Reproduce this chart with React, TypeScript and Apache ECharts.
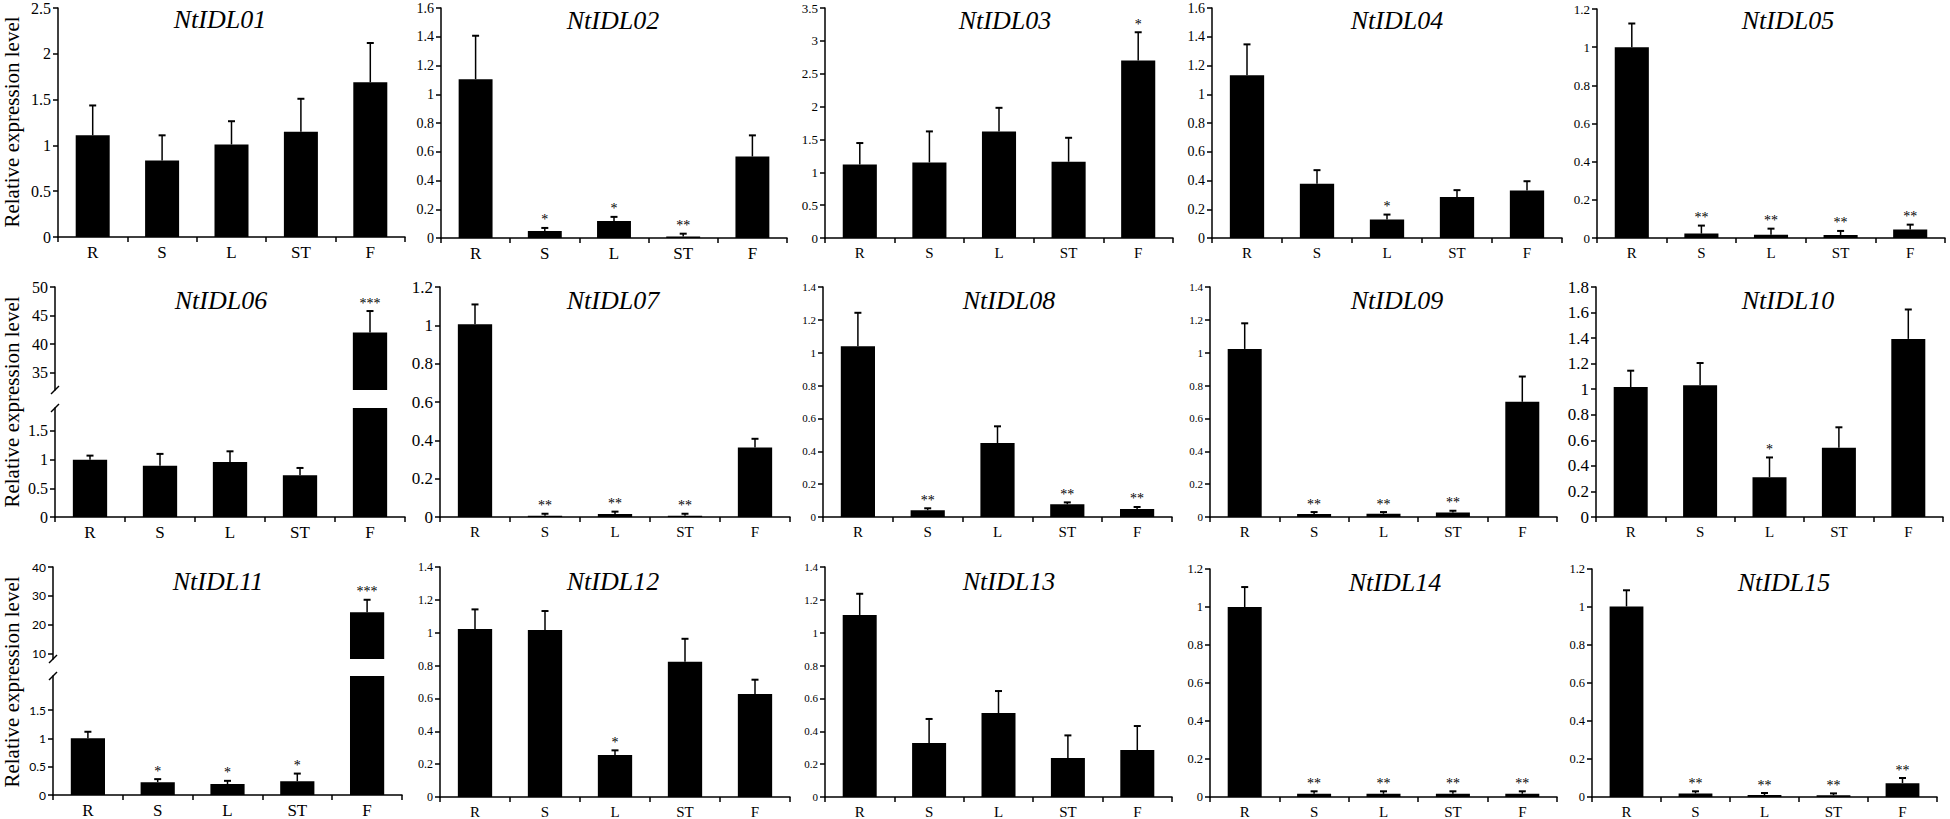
import React, { useEffect, useRef } from "react";
import * as echarts from "echarts";

// ---------- DATA ----------
const categories = ["R", "S", "L", "ST", "F"];
const geneNames = [
  "NtIDL01", "NtIDL02", "NtIDL03", "NtIDL04", "NtIDL05",
  "NtIDL06", "NtIDL07", "NtIDL08", "NtIDL09", "NtIDL10",
  "NtIDL11", "NtIDL12", "NtIDL13", "NtIDL14", "NtIDL15",
];
const yTitle = "Relative expression level";

// mean relative expression (R, S, L, ST, F)
const meanNtIDL01 = [1.11, 0.835, 1.01, 1.15, 1.69];
const meanNtIDL02 = [1.105, 0.049, 0.119, 0.01, 0.567];
const meanNtIDL03 = [1.12, 1.15, 1.62, 1.16, 2.7];
const meanNtIDL04 = [1.133, 0.377, 0.128, 0.286, 0.33];
const meanNtIDL05 = [1.0, 0.023, 0.017, 0.016, 0.044];
const meanNtIDL06 = [1.0, 0.895, 0.96, 0.727, 42.06];
const meanNtIDL07 = [1.006, 0.007, 0.016, 0.007, 0.363];
const meanNtIDL08 = [1.039, 0.041, 0.45, 0.077, 0.049];
const meanNtIDL09 = [1.023, 0.018, 0.02, 0.028, 0.701];
const meanNtIDL10 = [1.017, 1.032, 0.312, 0.542, 1.394];
const meanNtIDL11 = [1.0, 0.227, 0.192, 0.244, 24.3];
const meanNtIDL12 = [1.022, 1.016, 0.256, 0.824, 0.627];
const meanNtIDL13 = [1.108, 0.329, 0.511, 0.237, 0.286];
const meanNtIDL14 = [1.0, 0.017, 0.017, 0.017, 0.017];
const meanNtIDL15 = [1.003, 0.019, 0.01, 0.009, 0.073];

// standard deviation (upper error bar)
const sdNtIDL01 = [0.326, 0.275, 0.254, 0.359, 0.428];
const sdNtIDL02 = [0.302, 0.021, 0.028, 0.02, 0.147];
const sdNtIDL03 = [0.325, 0.472, 0.361, 0.365, 0.431];
const sdNtIDL04 = [0.214, 0.095, 0.035, 0.047, 0.065];
const sdNtIDL05 = [0.124, 0.042, 0.032, 0.021, 0.026];
const sdNtIDL06 = [0.07, 0.205, 0.185, 0.128, 3.74];
const sdNtIDL07 = [0.103, 0.01, 0.012, 0.01, 0.045];
const sdNtIDL08 = [0.204, 0.012, 0.102, 0.012, 0.012];
const sdNtIDL09 = [0.156, 0.012, 0.01, 0.01, 0.154];
const sdNtIDL10 = [0.128, 0.173, 0.154, 0.16, 0.23];
const sdNtIDL11 = [0.116, 0.053, 0.058, 0.134, 4.3];
const sdNtIDL12 = [0.12, 0.116, 0.028, 0.139, 0.087];
const sdNtIDL13 = [0.129, 0.146, 0.134, 0.138, 0.146];
const sdNtIDL14 = [0.105, 0.013, 0.013, 0.013, 0.013];
const sdNtIDL15 = [0.085, 0.011, 0.011, 0.01, 0.027];

// significance marks
const sigNtIDL01 = ["", "", "", "", ""];
const sigNtIDL02 = ["", "*", "*", "**", ""];
const sigNtIDL03 = ["", "", "", "", "*"];
const sigNtIDL04 = ["", "", "*", "", ""];
const sigNtIDL05 = ["", "**", "**", "**", "**"];
const sigNtIDL06 = ["", "", "", "", "***"];
const sigNtIDL07 = ["", "**", "**", "**", ""];
const sigNtIDL08 = ["", "**", "", "**", "**"];
const sigNtIDL09 = ["", "**", "**", "**", ""];
const sigNtIDL10 = ["", "", "*", "", ""];
const sigNtIDL11 = ["", "*", "*", "*", "***"];
const sigNtIDL12 = ["", "", "*", "", ""];
const sigNtIDL13 = ["", "", "", "", ""];
const sigNtIDL14 = ["", "**", "**", "**", "**"];
const sigNtIDL15 = ["", "**", "**", "**", "**"];

// y-axis scales
const yMaxValues = [2.5, 1.6, 3.5, 1.6, 1.2, null, 1.2, 1.4, 1.4, 1.8, null, 1.4, 1.4, 1.2, 1.2];
const yIntervals = [0.5, 0.2, 0.5, 0.2, 0.2, null, 0.2, 0.2, 0.2, 0.2, null, 0.2, 0.2, 0.2, 0.2];
// broken axes (lower part / upper part)
const lowerTicksNtIDL06 = [0, 0.5, 1, 1.5];
const upperTicksNtIDL06 = [35, 40, 45, 50];
const lowerRangeNtIDL06 = [0, 1.9];
const upperRangeNtIDL06 = [32, 50];
const lowerTicksNtIDL11 = [0, 0.5, 1, 1.5];
const upperTicksNtIDL11 = [10, 20, 30, 40];
const lowerRangeNtIDL11 = [0, 2.1];
const upperRangeNtIDL11 = [8, 40];

const means = [meanNtIDL01, meanNtIDL02, meanNtIDL03, meanNtIDL04, meanNtIDL05, meanNtIDL06, meanNtIDL07, meanNtIDL08, meanNtIDL09, meanNtIDL10, meanNtIDL11, meanNtIDL12, meanNtIDL13, meanNtIDL14, meanNtIDL15];
const sds = [sdNtIDL01, sdNtIDL02, sdNtIDL03, sdNtIDL04, sdNtIDL05, sdNtIDL06, sdNtIDL07, sdNtIDL08, sdNtIDL09, sdNtIDL10, sdNtIDL11, sdNtIDL12, sdNtIDL13, sdNtIDL14, sdNtIDL15];
const sigs = [sigNtIDL01, sigNtIDL02, sigNtIDL03, sigNtIDL04, sigNtIDL05, sigNtIDL06, sigNtIDL07, sigNtIDL08, sigNtIDL09, sigNtIDL10, sigNtIDL11, sigNtIDL12, sigNtIDL13, sigNtIDL14, sigNtIDL15];
const broken: Record<number, any> = {
  5: { lowerTicks: lowerTicksNtIDL06, upperTicks: upperTicksNtIDL06, lowerRange: lowerRangeNtIDL06, upperRange: upperRangeNtIDL06 },
  10: { lowerTicks: lowerTicksNtIDL11, upperTicks: upperTicksNtIDL11, lowerRange: lowerRangeNtIDL11, upperRange: upperRangeNtIDL11 },
};

// ---------- LAYOUT ----------
const SERIF = '"Liberation Serif", "Times New Roman", serif';
const SANS = 'Lato, "Liberation Sans", sans-serif';
const layouts = [
  { left: 58, width: 347, top: 7, height: 230, tx: 220, ty: 19, tick: 16, cat: 17 },
  { left: 441, width: 346, top: 8, height: 230, tx: 613, ty: 20, tick: 14, cat: 17 },
  { left: 825, width: 348, top: 8, height: 230, tx: 1005, ty: 20, tick: 13, cat: 15 },
  { left: 1212, width: 350, top: 8, height: 230, tx: 1397, ty: 20, tick: 14, cat: 15 },
  { left: 1597, width: 348, top: 9, height: 229, tx: 1788, ty: 20, tick: 13, cat: 15 },
  { left: 55, width: 350, top: 287, height: 230, tx: 221, ty: 300, tick: 16, cat: 17, upperBottom: 390, lowerTop: 408 },
  { left: 440, width: 350, top: 287, height: 230, tx: 613, ty: 300, tick: 17, cat: 15 },
  { left: 823, width: 349, top: 287, height: 230, tx: 1009, ty: 300, tick: 11, cat: 15 },
  { left: 1210, width: 347, top: 287, height: 230, tx: 1397, ty: 300, tick: 11, cat: 15 },
  { left: 1596, width: 347, top: 287, height: 230, tx: 1788, ty: 300, tick: 17, cat: 15 },
  { left: 53, width: 349, top: 567, height: 230, tx: 218, ty: 581, tick: 12, cat: 17, sans: true, upperBottom: 659, lowerTop: 676 },
  { left: 440, width: 350, top: 567, height: 230, tx: 613, ty: 581, tick: 12, cat: 15 },
  { left: 825, width: 347, top: 567, height: 230, tx: 1009, ty: 581, tick: 11, cat: 15 },
  { left: 1210, width: 347, top: 569, height: 229, tx: 1395, ty: 582, tick: 12.5, cat: 15 },
  { left: 1592, width: 345, top: 569, height: 229, tx: 1784, ty: 582, tick: 12.5, cat: 15 },
];
const rowTitleY = [122, 402, 682];

const AX = { color: "#000", width: 1.5 };

function makeRenderItem(sig: string[]) {
  return (params: any, api: any) => {
    const idx = api.value(0);
    const base = api.coord([idx, api.value(1)]);
    const top = api.coord([idx, api.value(2)]);
    const x = base[0];
    const children: any[] = [
      { type: "line", shape: { x1: x, y1: base[1], x2: x, y2: top[1] }, style: { stroke: "#000", lineWidth: 1.5 } },
      { type: "line", shape: { x1: x - 3.5, y1: top[1], x2: x + 3.5, y2: top[1] }, style: { stroke: "#000", lineWidth: 2 } },
    ];
    const s = sig[idx];
    if (s) {
      children.push({
        type: "text",
        x,
        y: top[1] - 8,
        style: { text: s, align: "center", verticalAlign: "middle", font: '14px "Liberation Serif"', fill: "#000" },
      });
    }
    return { type: "group", children };
  };
}

function buildOption() {
  const grid: any[] = [];
  const xAxis: any[] = [];
  const yAxis: any[] = [];
  const series: any[] = [];
  const graphic: any[] = [];

  const addGrid = (
    p: number,
    g: { left: number; width: number; top: number; height: number },
    showX: boolean,
    yCfg: any,
    barData: any[],
    errData: any[]
  ) => {
    const L = layouts[p];
    const fam = L.sans ? SANS : SERIF;
    const gi = grid.length;
    grid.push({ left: g.left, top: g.top, width: g.width, height: g.height, containLabel: false });
    xAxis.push({
      type: "category",
      gridIndex: gi,
      data: categories,
      show: showX,
      axisLine: { show: true, lineStyle: AX },
      axisTick: { show: true, length: 5, lineStyle: AX },
      axisLabel: { color: "#000", fontFamily: SERIF, fontSize: L.cat, margin: 7 },
      splitLine: { show: false },
    });
    yAxis.push({
      type: "value",
      gridIndex: gi,
      ...yCfg,
      axisLine: { show: true, lineStyle: AX },
      axisTick: { show: true, length: 5, lineStyle: AX, ...(yCfg.ticks ? { customValues: yCfg.ticks } : {}) },
      axisLabel: {
        color: "#000",
        fontFamily: fam,
        fontSize: L.tick,
        margin: 7,
        ...(yCfg.ticks ? { customValues: yCfg.ticks } : {}),
      },
      splitLine: { show: false },
    });
    series.push({
      type: "bar",
      xAxisIndex: gi,
      yAxisIndex: gi,
      data: barData,
      barWidth: "49%",
      itemStyle: { color: "#000" },
      clip: true,
      silent: true,
    });
    series.push({
      type: "custom",
      xAxisIndex: gi,
      yAxisIndex: gi,
      data: errData,
      encode: { x: 0, y: [1, 2] },
      renderItem: makeRenderItem(sigs[p]),
      silent: true,
      z: 3,
    });
  };

  layouts.forEach((L, p) => {
    const m = means[p];
    const sd = sds[p];
    const all = m.map((v, i) => [i, v, v + sd[i]]);
    const b = broken[p];
    if (!b) {
      addGrid(p, L, true, { min: 0, max: yMaxValues[p], interval: yIntervals[p] }, m, all);
    } else {
      // upper part
      addGrid(
        p,
        { left: L.left, width: L.width, top: L.top, height: L.upperBottom - L.top },
        false,
        { min: b.upperRange[0], max: b.upperRange[1], ticks: b.upperTicks },
        m.map((v) => (v > b.upperRange[0] ? v : "-")),
        all.filter((d) => d[1] > b.upperRange[0])
      );
      // lower part
      addGrid(
        p,
        { left: L.left, width: L.width, top: L.lowerTop, height: L.top + L.height - L.lowerTop },
        true,
        { min: b.lowerRange[0], max: b.lowerRange[1], ticks: b.lowerTicks },
        m,
        all.filter((d) => d[2] <= b.lowerRange[1])
      );
      // break marks
      [L.upperBottom, L.lowerTop].forEach((yy) => {
        graphic.push({
          type: "line",
          shape: { x1: L.left - 4, y1: yy + 4, x2: L.left + 4, y2: yy - 4 },
          style: { stroke: "#000", lineWidth: 1.5 },
          silent: true,
        });
      });
    }
    graphic.push({
      type: "text",
      x: L.tx,
      y: L.ty,
      style: {
        text: geneNames[p],
        align: "center",
        verticalAlign: "middle",
        font: 'italic 26px "Liberation Serif"',
        fill: "#000",
      },
      silent: true,
    });
  });

  rowTitleY.forEach((yy) => {
    graphic.push({
      type: "text",
      x: 12,
      y: yy,
      rotation: Math.PI / 2,
      style: {
        text: yTitle,
        align: "center",
        verticalAlign: "middle",
        font: '21px "Liberation Serif"',
        fill: "#000",
      },
      silent: true,
    });
  });

  return {
    animation: false,
    backgroundColor: "#fff",
    grid,
    xAxis,
    yAxis,
    series,
    graphic,
  };
}

export default function App() {
  const ref = useRef<HTMLDivElement>(null);
  useEffect(() => {
    document.body.style.margin = "0";
    if (!ref.current) return;
    const chart = echarts.init(ref.current, undefined, { renderer: "svg" });
    chart.setOption(buildOption() as any);
    return () => chart.dispose();
  }, []);
  return <div ref={ref} style={{ width: 1950, height: 819 }} />;
}
